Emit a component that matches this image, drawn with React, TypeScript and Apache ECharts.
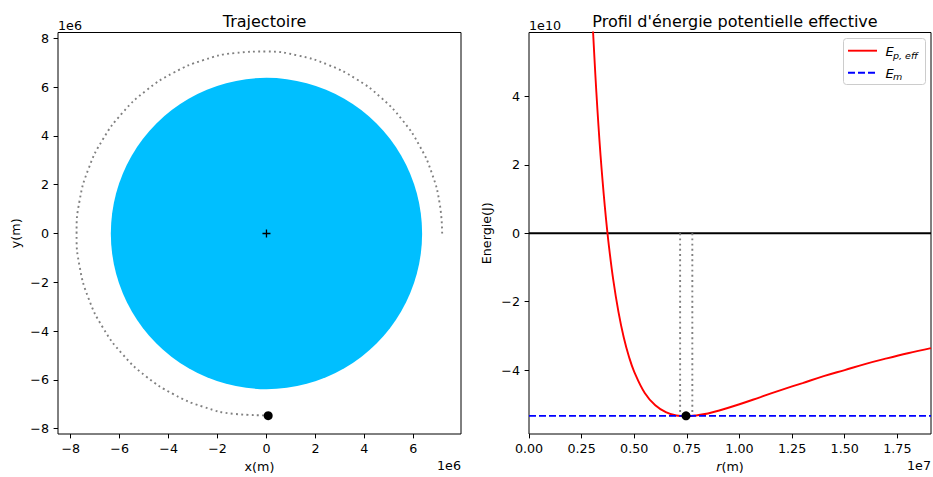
import React, { useEffect, useRef } from "react";
import * as echarts from "echarts";

// ---- Left panel data (units of 1e6 m) ----
const earthRadius = 6.371;
const trajX = [7.18, 7.075, 6.762, 6.249, 5.548, 4.678, 3.659, 2.517, 1.286, 0, -1.304, -2.586, -3.804, -4.918, -5.889, -6.685, -7.275, -7.638, -7.761, -7.638, -7.275, -6.685, -5.889, -4.918, -3.804, -2.586, -1.304, 0];
const trajY = [0, 1.247, 2.461, 3.608, 4.656, 5.574, 6.337, 6.917, 7.296, 7.459, 7.396, 7.104, 6.588, 5.86, 4.942, 3.86, 2.648, 1.346, 0, -1.346, -2.648, -3.86, -4.942, -5.86, -6.588, -7.104, -7.396, -7.459];
const satellite = [0.07, -7.47];
const center = [0, 0];
const leftXTicks = [-8, -6, -4, -2, 0, 2, 4, 6];
const leftYTicks = [-8, -6, -4, -2, 0, 2, 4, 6, 8];

// ---- Right panel data (r in 1e7 m, energy in 1e10 J) ----
const rValues = [0.28, 0.30, 0.31, 0.32, 0.33, 0.34, 0.35, 0.36, 0.37, 0.38, 0.40, 0.425, 0.45, 0.475, 0.50, 0.55, 0.60, 0.65, 0.70, 0.75, 0.80, 0.85, 0.90, 1.0, 1.1, 1.2, 1.3, 1.4, 1.5, 1.6, 1.7, 1.8, 1.91];
const epEff = [9.46, 6.47, 5.23, 4.13, 3.15, 2.27, 1.50, 0.80, 0.17, -0.39, -1.35, -2.30, -3.04, -3.61, -4.05, -4.67, -5.03, -5.23, -5.33, -5.35, -5.32, -5.27, -5.19, -5.00, -4.79, -4.58, -4.38, -4.18, -4.00, -3.82, -3.66, -3.51, -3.36];
const emValue = -5.34;
const rMin = 0.718;
const rMax = 0.776;
const rSat = 0.746;
const rightXTicks = [0, 0.25, 0.5, 0.75, 1.0, 1.25, 1.5, 1.75];
const rightYTicks = [-4, -2, 0, 2, 4];

const FONT = "DejaVu Sans";
const TICK_FS = 12.7;
const TITLE_FS = 16;
const minus = (s: string) => s.replace(/-/g, "\u2212");

export default function App() {
  const ref = useRef<HTMLDivElement>(null);
  useEffect(() => {
    if (!ref.current) return;
    const chart = echarts.init(ref.current, null, { renderer: "svg" });

    const axisCommon = {
      axisLine: { show: false, onZero: false },
      splitLine: { show: false },
      axisTick: { show: true, length: 4.4, lineStyle: { color: "#000", width: 1 } },
      axisLabel: { color: "#000", fontSize: TICK_FS, fontFamily: FONT },
      nameTextStyle: { color: "#000", fontSize: TICK_FS, fontFamily: FONT },
    };

    const option: any = {
      animation: false,
      backgroundColor: "#fff",
      textStyle: { fontFamily: FONT },
      title: [
        { text: "Trajectoire", left: 259.5, top: 8, textAlign: "center", textStyle: { fontSize: TITLE_FS, fontWeight: "normal", color: "#000", fontFamily: FONT } },
        { text: "Profil d'énergie potentielle effective", left: 730, top: 8, textAlign: "center", textStyle: { fontSize: TITLE_FS, fontWeight: "normal", color: "#000", fontFamily: FONT } },
      ],
      grid: [
        { left: 58, top: 32.5, width: 403, height: 401.5, show: true, borderColor: "#000", borderWidth: 1, containLabel: false, outerBoundsMode: "none" },
        { left: 529, top: 32.5, width: 402, height: 401.5, show: true, borderColor: "#000", borderWidth: 1, containLabel: false, outerBoundsMode: "none" },
      ],
      xAxis: [
        {
          ...axisCommon, type: "value", gridIndex: 0, min: -8.52, max: 7.95,
          axisTick: { ...axisCommon.axisTick, customValues: leftXTicks },
          axisLabel: { ...axisCommon.axisLabel, customValues: leftXTicks, margin: 8, formatter: (v: number) => minus(String(v)) },
          name: "x(m)", nameLocation: "middle", nameGap: 26,
        },
        {
          ...axisCommon, type: "value", gridIndex: 1, min: 0, max: 1.91,
          axisTick: { ...axisCommon.axisTick, customValues: rightXTicks },
          axisLabel: { ...axisCommon.axisLabel, customValues: rightXTicks, margin: 8, formatter: (v: number) => v.toFixed(2) },
          name: "{i|r}(m)", nameLocation: "middle", nameGap: 26,
          nameTextStyle: { ...axisCommon.nameTextStyle, rich: { i: { fontStyle: "italic", fontSize: TICK_FS, fontFamily: FONT, color: "#000" } } },
        },
      ],
      yAxis: [
        {
          ...axisCommon, type: "value", gridIndex: 0, min: -8.22, max: 8.24,
          axisTick: { ...axisCommon.axisTick, customValues: leftYTicks },
          axisLabel: { ...axisCommon.axisLabel, customValues: leftYTicks, margin: 9, formatter: (v: number) => minus(String(v)) },
          name: "y(m)", nameLocation: "middle", nameGap: 36,
        },
        {
          ...axisCommon, type: "value", gridIndex: 1, min: -5.87, max: 5.87,
          axisTick: { ...axisCommon.axisTick, customValues: rightYTicks },
          axisLabel: { ...axisCommon.axisLabel, customValues: rightYTicks, margin: 9, formatter: (v: number) => minus(String(v)) },
          name: "Energie(J)", nameLocation: "middle", nameGap: 36,
        },
      ],
      series: [
        {
          type: "custom", xAxisIndex: 0, yAxisIndex: 0, data: [[center[0], center[1], earthRadius]],
          renderItem: (params: any, api: any) => {
            const c = api.coord([api.value(0), api.value(1)]);
            const s = api.size([api.value(2), api.value(2)]);
            return { type: "circle", shape: { cx: c[0], cy: c[1], r: (s[0] + s[1]) / 2 }, style: { fill: "#00BFFF" } };
          },
          silent: true, z: 1,
        },
        {
          type: "line", xAxisIndex: 0, yAxisIndex: 0, data: trajX.map((x, i) => [x, trajY[i]]),
          smooth: true, symbol: "none", lineStyle: { color: "#808080", width: 1.9, type: [1.9, 3.3], cap: "butt" }, z: 2,
        },
        {
          type: "scatter", xAxisIndex: 0, yAxisIndex: 0, data: [center],
          symbol: "path://M0,-1L0,1M-1,0L1,0", symbolSize: 8,
          itemStyle: { color: "none", borderColor: "#000", borderWidth: 1.3, opacity: 1 }, z: 3,
        },
        {
          type: "scatter", xAxisIndex: 0, yAxisIndex: 0, data: [satellite],
          symbol: "circle", symbolSize: 9, itemStyle: { color: "#000", opacity: 1 }, z: 4,
        },
        {
          type: "line", xAxisIndex: 1, yAxisIndex: 1, data: [[0, 0], [1.91, 0]],
          symbol: "none", lineStyle: { color: "#000", width: 1.9 }, z: 2,
        },
        {
          type: "line", xAxisIndex: 1, yAxisIndex: 1, data: [[rMin, 0], [rMin, emValue]],
          symbol: "none", lineStyle: { color: "#808080", width: 1.9, type: [1.9, 3.3] }, z: 2,
        },
        {
          type: "line", xAxisIndex: 1, yAxisIndex: 1, data: [[rMax, 0], [rMax, emValue]],
          symbol: "none", lineStyle: { color: "#808080", width: 1.9, type: [1.9, 3.3] }, z: 2,
        },
        {
          name: "Ep,eff", type: "line", xAxisIndex: 1, yAxisIndex: 1, data: rValues.map((r, i) => [r, epEff[i]]),
          smooth: 0.4, symbol: "none", clip: true, lineStyle: { color: "#ff0000", width: 1.9 }, z: 3,
        },
        {
          name: "Em", type: "line", xAxisIndex: 1, yAxisIndex: 1, data: [[0, emValue], [1.91, emValue]],
          symbol: "none", lineStyle: { color: "#0000ff", width: 1.9, type: [7, 3] }, z: 4,
        },
        {
          type: "scatter", xAxisIndex: 1, yAxisIndex: 1, data: [[rSat, emValue]],
          symbol: "circle", symbolSize: 9, itemStyle: { color: "#000", opacity: 1 }, z: 5,
        },
      ],
      graphic: [
        { type: "text", x: 58, y: 25, style: { text: "1e6", fontSize: TICK_FS, fontFamily: FONT, fill: "#000", verticalAlign: "middle" } },
        { type: "text", x: 461, y: 465, style: { text: "1e6", fontSize: TICK_FS, fontFamily: FONT, fill: "#000", align: "right", verticalAlign: "middle" } },
        { type: "text", x: 529, y: 25, style: { text: "1e10", fontSize: TICK_FS, fontFamily: FONT, fill: "#000", verticalAlign: "middle" } },
        { type: "text", x: 931, y: 465, style: { text: "1e7", fontSize: TICK_FS, fontFamily: FONT, fill: "#000", align: "right", verticalAlign: "middle" } },
        { type: "rect", shape: { x: 843.5, y: 38.5, width: 82, height: 46, r: 3 }, style: { fill: "rgba(255,255,255,0.8)", stroke: "#cccccc", lineWidth: 1 }, z: 100 },
        { type: "line", shape: { x1: 848, y1: 50.7, x2: 877, y2: 50.7 }, style: { stroke: "#ff0000", lineWidth: 1.9 }, z: 101 },
        { type: "line", shape: { x1: 848, y1: 72.7, x2: 877, y2: 72.7 }, style: { stroke: "#0000ff", lineWidth: 1.9, lineDash: [7, 3] }, z: 101 },
        { type: "text", x: 885.5, y: 51, style: { text: "E", fontSize: 13, fontStyle: "italic", fontFamily: FONT, fill: "#000", verticalAlign: "middle" }, z: 101 },
        { type: "text", x: 893, y: 55.5, style: { text: "p, eff", fontSize: 9.5, fontStyle: "italic", fontFamily: FONT, fill: "#000", verticalAlign: "middle" }, z: 101 },
        { type: "text", x: 885.5, y: 73, style: { text: "E", fontSize: 13, fontStyle: "italic", fontFamily: FONT, fill: "#000", verticalAlign: "middle" }, z: 101 },
        { type: "text", x: 893, y: 76.5, style: { text: "m", fontSize: 9.5, fontStyle: "italic", fontFamily: FONT, fill: "#000", verticalAlign: "middle" }, z: 101 },
      ],
    };
    chart.setOption(option);
    return () => chart.dispose();
  }, []);
  return <div ref={ref} style={{ position: "fixed", left: 0, top: 0, width: 933, height: 477 }} />;
}
